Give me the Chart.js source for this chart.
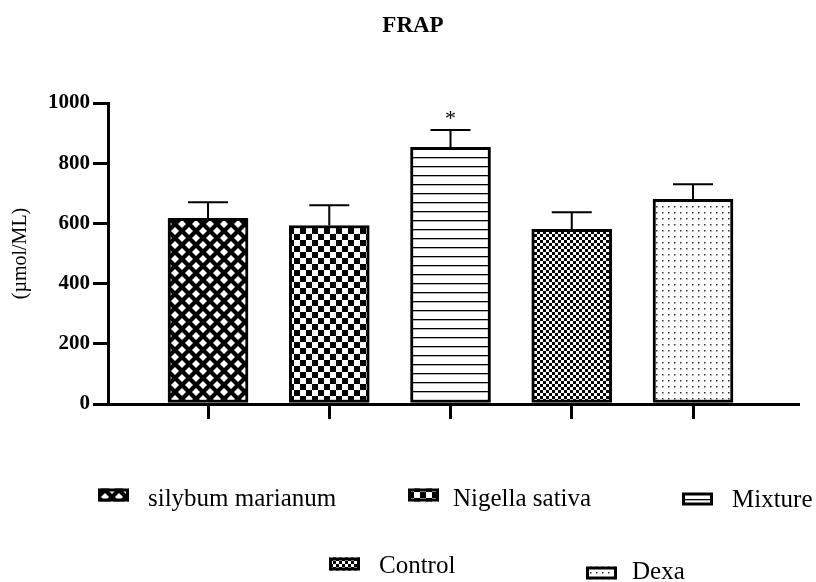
<!DOCTYPE html>
<html>
<head>
<meta charset="utf-8">
<script src="https://cdn.jsdelivr.net/npm/chart.js@4.4.0/dist/chart.umd.min.js"></script>
<style>
  html, body { margin: 0; padding: 0; background: #fff; }
  #wrap { width: 816px; height: 582px; position: relative; }
</style>
</head>
<body>
<div id="wrap"><canvas id="frapChart" width="816" height="582"></canvas></div>
<script>
// FRAP values
const groups = ['silybum marianum', 'Nigella sativa', 'Mixture', 'Control', 'Dexa'];
const frapMeans = [617, 593, 853, 580, 680];
const frapErrors = [53, 67, 57, 57, 50];
const significance = ['', '', '*', '', ''];
const yTicks = [0, 200, 400, 600, 800, 1000];

const serif = "'Times New Roman', 'Liberation Serif', serif";
const patternKinds = ['diamond', 'checker', 'hlines', 'fine', 'dots'];

// where each legend entry sits (swatch left, swatch centre y, text left, text baseline)
const legendSpots = [
  [98, 495, 148, 506],
  [408, 495, 453, 506],
  [682, 499, 732, 507],
  [329, 564, 379, 573],
  [586, 573, 632, 579]
];

function makePattern(kind) {
  const c = document.createElement('canvas');
  const g = c.getContext('2d');
  if (kind === 'diamond') {
    c.width = 14; c.height = 14;
    g.fillStyle = '#000'; g.fillRect(0, 0, 14, 14);
    g.fillStyle = '#fff';
    [[0, 0], [14, 0], [0, 14], [14, 14], [7, 7]].forEach(([x, y]) => {
      g.beginPath();
      g.moveTo(x - 4, y); g.lineTo(x, y - 4); g.lineTo(x + 4, y); g.lineTo(x, y + 4);
      g.closePath(); g.fill();
    });
  } else if (kind === 'checker') {
    c.width = 12; c.height = 12;
    g.fillStyle = '#fff'; g.fillRect(0, 0, 12, 12);
    g.fillStyle = '#000'; g.fillRect(0, 0, 6, 6); g.fillRect(6, 6, 6, 6);
  } else if (kind === 'hlines') {
    c.width = 9; c.height = 9;
    g.fillStyle = '#fff'; g.fillRect(0, 0, 9, 9);
    g.fillStyle = '#000'; g.fillRect(0, 4, 9, 1.3);
  } else if (kind === 'fine') {
    c.width = 6; c.height = 6;
    g.fillStyle = '#fff'; g.fillRect(0, 0, 6, 6);
    g.fillStyle = '#000'; g.fillRect(0, 0, 3, 3); g.fillRect(3, 3, 3, 3);
  } else {
    c.width = 6; c.height = 6;
    g.fillStyle = '#fff'; g.fillRect(0, 0, 6, 6);
    g.fillStyle = '#333'; g.fillRect(2, 2, 1.5, 1.5);
  }
  return g.createPattern(c, 'repeat');
}

const fills = patternKinds.map(makePattern);

const errorBars = {
  id: 'errorBars',
  afterDatasetsDraw(chart) {
    const ctx = chart.ctx;
    const y = chart.scales.y;
    const meta = chart.getDatasetMeta(0);
    ctx.save();
    ctx.strokeStyle = '#000';
    ctx.lineWidth = 2;
    meta.data.forEach((bar, i) => {
      const top = y.getPixelForValue(frapMeans[i] + frapErrors[i]);
      ctx.beginPath();
      ctx.moveTo(bar.x, bar.y);
      ctx.lineTo(bar.x, top);
      ctx.moveTo(bar.x - 20, top);
      ctx.lineTo(bar.x + 20, top);
      ctx.stroke();
      if (significance[i]) {
        ctx.fillStyle = '#000';
        ctx.font = '22px ' + serif;
        ctx.textAlign = 'center';
        ctx.textBaseline = 'alphabetic';
        ctx.fillText(significance[i], bar.x, top - 5);
      }
    });
    ctx.restore();
  }
};

// title and legend drawn by hand, the figure puts them off-centre
const titleAndLegend = {
  id: 'titleAndLegend',
  afterDraw(chart) {
    const ctx = chart.ctx;
    ctx.save();
    ctx.fillStyle = '#000';
    ctx.font = 'bold 23px ' + serif;
    ctx.textAlign = 'center';
    ctx.textBaseline = 'alphabetic';
    ctx.fillText('FRAP', 413, 32);

    groups.forEach((name, i) => {
      const [sx, sy, tx, ty] = legendSpots[i];
      ctx.fillStyle = fills[i];
      ctx.fillRect(sx, sy - 6.5, 31, 13);
      ctx.strokeStyle = '#000';
      ctx.lineWidth = 3;
      ctx.strokeRect(sx + 1.5, sy - 5, 28, 10);
      ctx.fillStyle = '#000';
      ctx.font = '25px ' + serif;
      ctx.textAlign = 'left';
      ctx.fillText(name, tx, ty);
    });
    ctx.restore();
  }
};

new Chart(document.getElementById('frapChart'), {
  type: 'bar',
  data: {
    datasets: [{
      label: 'FRAP',
      data: frapMeans.map((v, i) => ({ x: i, y: v })),
      backgroundColor: fills,
      borderColor: '#000',
      borderWidth: 3,
      borderSkipped: false,
      barThickness: 80
    }]
  },
  options: {
    responsive: false,
    animation: false,
    layout: { padding: { left: 0, right: 18, top: 103, bottom: 0 } },
    plugins: {
      legend: { display: false },
      tooltip: { enabled: false },
      title: { display: false }
    },
    scales: {
      x: {
        type: 'linear',
        offset: false,
        min: -0.825,
        max: 4.866,
        afterBuildTicks: s => { s.ticks = groups.map((_, i) => ({ value: i })); },
        afterFit: s => { s.height = 178; },
        ticks: { display: false },
        grid: { offset: false, drawOnChartArea: false, drawTicks: true, tickLength: 15, color: '#000', lineWidth: 3 },
        border: { display: true, color: '#000', width: 3 }
      },
      y: {
        min: yTicks[0],
        max: yTicks[yTicks.length - 1],
        afterBuildTicks: s => { s.ticks = yTicks.map(v => ({ value: v })); },
        afterFit: s => { s.width = 108; },
        ticks: {
          color: '#000',
          padding: 3,
          font: { family: serif, size: 21, weight: 'bold' },
          callback: v => String(v)
        },
        grid: { drawOnChartArea: false, drawTicks: true, tickLength: 15, color: '#000', lineWidth: 3 },
        border: { display: true, color: '#000', width: 3 },
        title: {
          display: true,
          text: '(µmol/ML)',
          color: '#000',
          font: { family: serif, size: 20 },
          padding: { top: 9, bottom: 0 }
        }
      }
    }
  },
  plugins: [errorBars, titleAndLegend]
});
</script>
</body>
</html>
